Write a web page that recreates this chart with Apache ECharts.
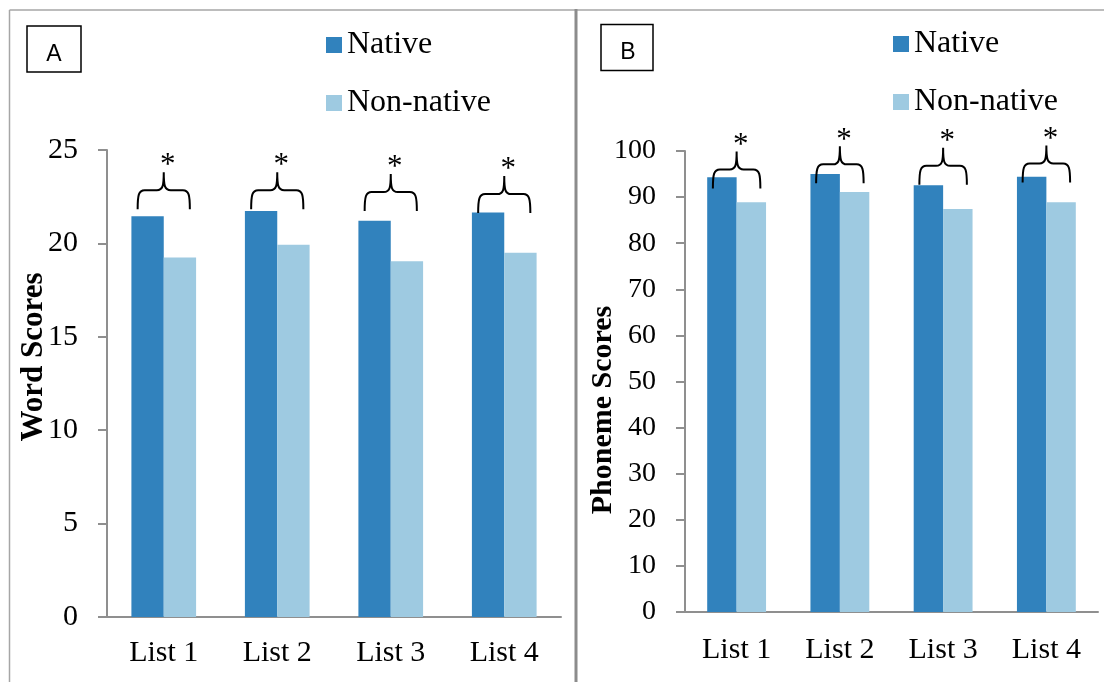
<!DOCTYPE html>
<html>
<head>
<meta charset="utf-8">
<title>Word and phoneme scores</title>
<script src="https://cdn.jsdelivr.net/npm/echarts@6/dist/echarts.min.js"></script>
<style>
  html, body { margin: 0; padding: 0; background: #fff; }
  #main { width: 1104px; height: 682px; }
</style>
</head>
<body>
<div id="main"></div>
<script>
// data
const lists = ['List 1', 'List 2', 'List 3', 'List 4'];

const wordNative = [21.46, 21.73, 21.21, 21.66];
const wordNonNative = [19.25, 19.93, 19.05, 19.5];

const phonemeNative = [94.3, 95.0, 92.55, 94.4];
const phonemeNonNative = [88.9, 91.1, 87.4, 88.9];

// height of the significance braces (in axis units)
const wordBrace = [22.85, 22.85, 22.75, 22.64];
const phonemeBrace = [96.0, 97.1, 96.8, 97.3];

const SERIF = '"Liberation Serif", "Times New Roman", serif';
const SANS = '"Liberation Sans", Arial, sans-serif';
const NATIVE = '#3182bd';
const NONNATIVE = '#9ecae1';
const AXIS = '#8f8f8f';

const chart = echarts.init(document.getElementById('main'));

// draws a horizontal curly brace + asterisk over a category
function renderBrace(params, api) {
  const p = api.coord([api.value(0), api.value(1)]);
  const band = api.size([1, 0])[0];
  const half = band * 0.23;
  const xc = p[0], y = p[1];
  const x0 = xc - half, x1 = xc + half;
  const r = 7, drop = 19, rise = 18;
  const d = 'M' + x0 + ' ' + (y + drop) +
    ' C' + x0 + ' ' + (y + 5) + ' ' + (x0 + 1) + ' ' + y + ' ' + (x0 + r) + ' ' + y +
    ' L' + (xc - r) + ' ' + y +
    ' C' + (xc - 1) + ' ' + y + ' ' + xc + ' ' + (y - 4) + ' ' + xc + ' ' + (y - rise) +
    ' C' + xc + ' ' + (y - 4) + ' ' + (xc + 1) + ' ' + y + ' ' + (xc + r) + ' ' + y +
    ' L' + (x1 - r) + ' ' + y +
    ' C' + (x1 - 1) + ' ' + y + ' ' + x1 + ' ' + (y + 5) + ' ' + x1 + ' ' + (y + drop);
  return {
    type: 'group',
    children: [
      {
        type: 'path',
        shape: { pathData: d },
        style: { stroke: '#000', fill: null, lineWidth: 2 }
      },
      {
        type: 'text',
        style: {
          text: '*', x: xc + 4, y: y - 24,
          fontSize: 31, fontFamily: SERIF, fill: '#000',
          align: 'center', verticalAlign: 'middle'
        }
      }
    ]
  };
}

function xAxisOpt(idx, margin) {
  return {
    type: 'category', gridIndex: idx, data: lists,
    axisLine: { lineStyle: { color: AXIS, width: 2 } },
    axisTick: { length: 9, lineStyle: { color: AXIS, width: 2 } },
    axisLabel: { color: '#000', fontSize: 30, fontFamily: SERIF, margin: margin }
  };
}

function yAxisOpt(idx, max, interval, fontSize) {
  return {
    type: 'value', gridIndex: idx, min: 0, max: max, interval: interval,
    splitLine: { show: false },
    axisLine: { show: true, lineStyle: { color: AXIS, width: 2 } },
    axisTick: { show: true, length: 9, lineStyle: { color: AXIS, width: 2 } },
    axisLabel: { color: '#000', fontSize: fontSize, fontFamily: SERIF, margin: 29 }
  };
}

function legendOpt(left, top) {
  return {
    orient: 'vertical', left: left, top: top,
    data: ['Native', 'Non-native'],
    icon: 'rect', itemWidth: 16, itemHeight: 16, itemGap: 26,
    textStyle: { color: '#000', fontSize: 32, fontFamily: SERIF, lineHeight: 32 }
  };
}

function barSeries(name, data, idx, color) {
  return {
    name: name, type: 'bar', xAxisIndex: idx, yAxisIndex: idx,
    data: data, barGap: '0%', barCategoryGap: '43%',
    itemStyle: { color: color }, animation: false
  };
}

function braceSeries(data, idx) {
  return {
    type: 'custom', xAxisIndex: idx, yAxisIndex: idx,
    data: data.map((v, i) => [i, v]),
    renderItem: renderBrace, clip: false, z: 5, silent: true, animation: false
  };
}

const option = {
  backgroundColor: '#fff',
  animation: false,
  legend: [legendOpt(321, 24), legendOpt(888, 23)],
  grid: [
    { left: 107, right: 543, top: 150, bottom: 65 },
    { left: 685, right: 6, top: 151, bottom: 70 }
  ],
  xAxis: [xAxisOpt(0, 21), xAxisOpt(1, 23)],
  yAxis: [yAxisOpt(0, 25, 5, 30), yAxisOpt(1, 100, 10, 28)],
  series: [
    barSeries('Native', wordNative, 0, NATIVE),
    barSeries('Non-native', wordNonNative, 0, NONNATIVE),
    barSeries('Native', phonemeNative, 1, NATIVE),
    barSeries('Non-native', phonemeNonNative, 1, NONNATIVE),
    braceSeries(wordBrace, 0),
    braceSeries(phonemeBrace, 1)
  ],
  graphic: [
    // panel frames
    { type: 'line', shape: { x1: 9.5, y1: 10, x2: 1104, y2: 10 }, style: { stroke: '#a6a6a6', lineWidth: 1.5 } },
    { type: 'line', shape: { x1: 9.5, y1: 10, x2: 9.5, y2: 682 }, style: { stroke: '#a6a6a6', lineWidth: 1.5 } },
    { type: 'line', shape: { x1: 576, y1: 9, x2: 576, y2: 682 }, style: { stroke: '#8c8c8c', lineWidth: 3 } },
    // panel letters
    { type: 'rect', shape: { x: 27, y: 26, width: 54, height: 46 }, style: { stroke: '#000', fill: '#fff', lineWidth: 1.5 } },
    { type: 'text', x: 54, y: 55, style: { text: 'A', font: '23px ' + SANS, fill: '#000', align: 'center', verticalAlign: 'middle' } },
    { type: 'rect', shape: { x: 601, y: 24.5, width: 52, height: 46 }, style: { stroke: '#000', fill: '#fff', lineWidth: 1.5 } },
    { type: 'text', x: 628, y: 53, style: { text: 'B', font: '23px ' + SANS, fill: '#000', align: 'center', verticalAlign: 'middle' } },
    // axis titles
    { type: 'text', x: 34, y: 357, rotation: Math.PI / 2, style: { text: 'Word Scores', font: 'bold 31px ' + SERIF, fill: '#000', align: 'center', verticalAlign: 'middle' } },
    { type: 'text', x: 603, y: 410, rotation: Math.PI / 2, style: { text: 'Phoneme Scores', font: 'bold 30px ' + SERIF, fill: '#000', align: 'center', verticalAlign: 'middle' } }
  ]
};

chart.setOption(option);
</script>
</body>
</html>
